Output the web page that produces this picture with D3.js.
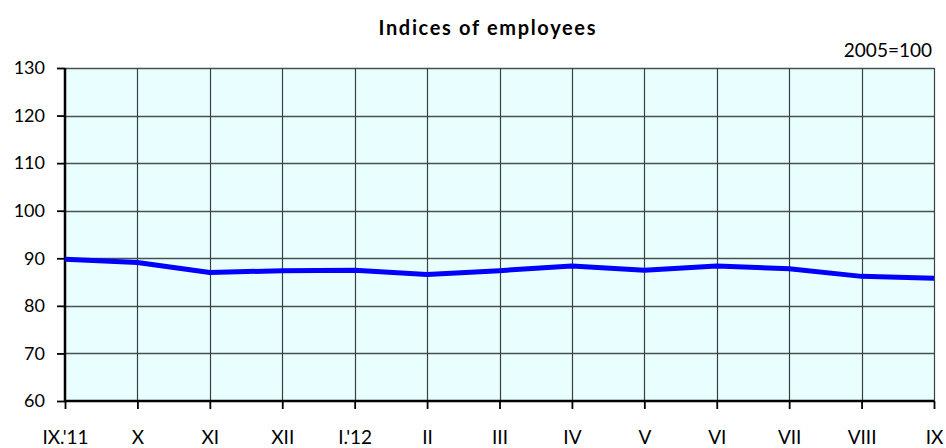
<!DOCTYPE html>
<html>
<head>
<meta charset="utf-8">
<script src="https://cdn.jsdelivr.net/npm/d3@7"></script>
<style>
  body { margin: 0; background: #fff; }
  text { font-family: Lato, "Noto Sans", sans-serif; fill: #000; }
</style>
</head>
<body>
<div id="chart"></div>
<script>
'use strict';

// month labels, Sept 2011 .. Sept 2012
const months = ["IX.'11", "X", "XI", "XII", "I.'12", "II", "III", "IV", "V", "VI", "VII", "VIII", "IX"];
// indices of employees, 2005=100
const indexValues = [89.8, 89.1, 87.0, 87.4, 87.5, 86.6, 87.4, 88.4, 87.5, 88.4, 87.8, 86.2, 85.8];
const yTicks = [60, 70, 80, 90, 100, 110, 120, 130];

const width = 946, height = 448;
const margin = { top: 68, right: 12, bottom: 47, left: 65 };

let svg = d3.select("#chart").append("svg")
    .attr("width", width)
    .attr("height", height);

let x = d3.scalePoint()
    .domain(months)
    .range([margin.left, width - margin.right]);

let y = d3.scaleLinear()
    .domain([60, 130])
    .range([height - margin.bottom, margin.top]);

// plot background
svg.append("rect")
    .attr("x", x.range()[0])
    .attr("y", y(130))
    .attr("width", x.range()[1] - x.range()[0])
    .attr("height", y(60) - y(130))
    .attr("fill", "#e9ffff");

// grid
svg.append("g")
    .selectAll("line")
    .data(yTicks.slice(1))
    .enter().append("line")
    .attr("x1", x.range()[0])
    .attr("x2", x.range()[1])
    .attr("y1", d => Math.round(y(d)) + 0.5)
    .attr("y2", d => Math.round(y(d)) + 0.5)
    .attr("stroke", "#4a4f4f")
    .attr("stroke-width", 1.3);

svg.append("g")
    .selectAll("line")
    .data(months.slice(1))
    .enter().append("line")
    .attr("x1", d => Math.round(x(d)) + 0.5)
    .attr("x2", d => Math.round(x(d)) + 0.5)
    .attr("y1", y(130))
    .attr("y2", y(60))
    .attr("stroke", "#3a3f3f")
    .attr("stroke-width", 1.2);

// axes
let yAxis = svg.append("g")
    .attr("transform", `translate(${x.range()[0]},0)`)
    .call(d3.axisLeft(y).tickValues(yTicks).tickSize(8).tickPadding(12));

let xAxis = svg.append("g")
    .attr("transform", `translate(0,${y(60)})`)
    .call(d3.axisBottom(x).tickSize(8).tickPadding(22));

[yAxis, xAxis].forEach(ax => {
    ax.select(".domain").attr("stroke", "#000").attr("stroke-width", 2.5);
    ax.selectAll(".tick line").attr("stroke", "#000").attr("stroke-width", 1.8);
    ax.selectAll(".tick text").style("font-size", "18px").attr("fill", "#111");
});
xAxis.selectAll(".tick text").style("font-size", "19px");
yAxis.select(".domain").attr("d", `M0,${y(130)}V${y(60)}`);
xAxis.select(".domain").attr("d", `M${x.range()[0]},0H${x.range()[1]}`);

// series line
svg.append("path")
    .datum(indexValues)
    .attr("fill", "none")
    .attr("stroke", "#0000ff")
    .attr("stroke-width", 5)
    .attr("stroke-linejoin", "round")
    .attr("d", d3.line()
        .x((d, i) => x(months[i]))
        .y(d => y(d)));

// titles
svg.append("text")
    .attr("x", 487)
    .attr("y", 35)
    .attr("text-anchor", "middle")
    .attr("textLength", 217)
    .attr("lengthAdjust", "spacing")
    .style("font-size", "20px")
    .style("font-weight", "bold")
    .text("Indices of employees");

svg.append("text")
    .attr("x", 932)
    .attr("y", 57)
    .attr("text-anchor", "end")
    .style("font-size", "19px")
    .text("2005=100");
</script>
</body>
</html>
